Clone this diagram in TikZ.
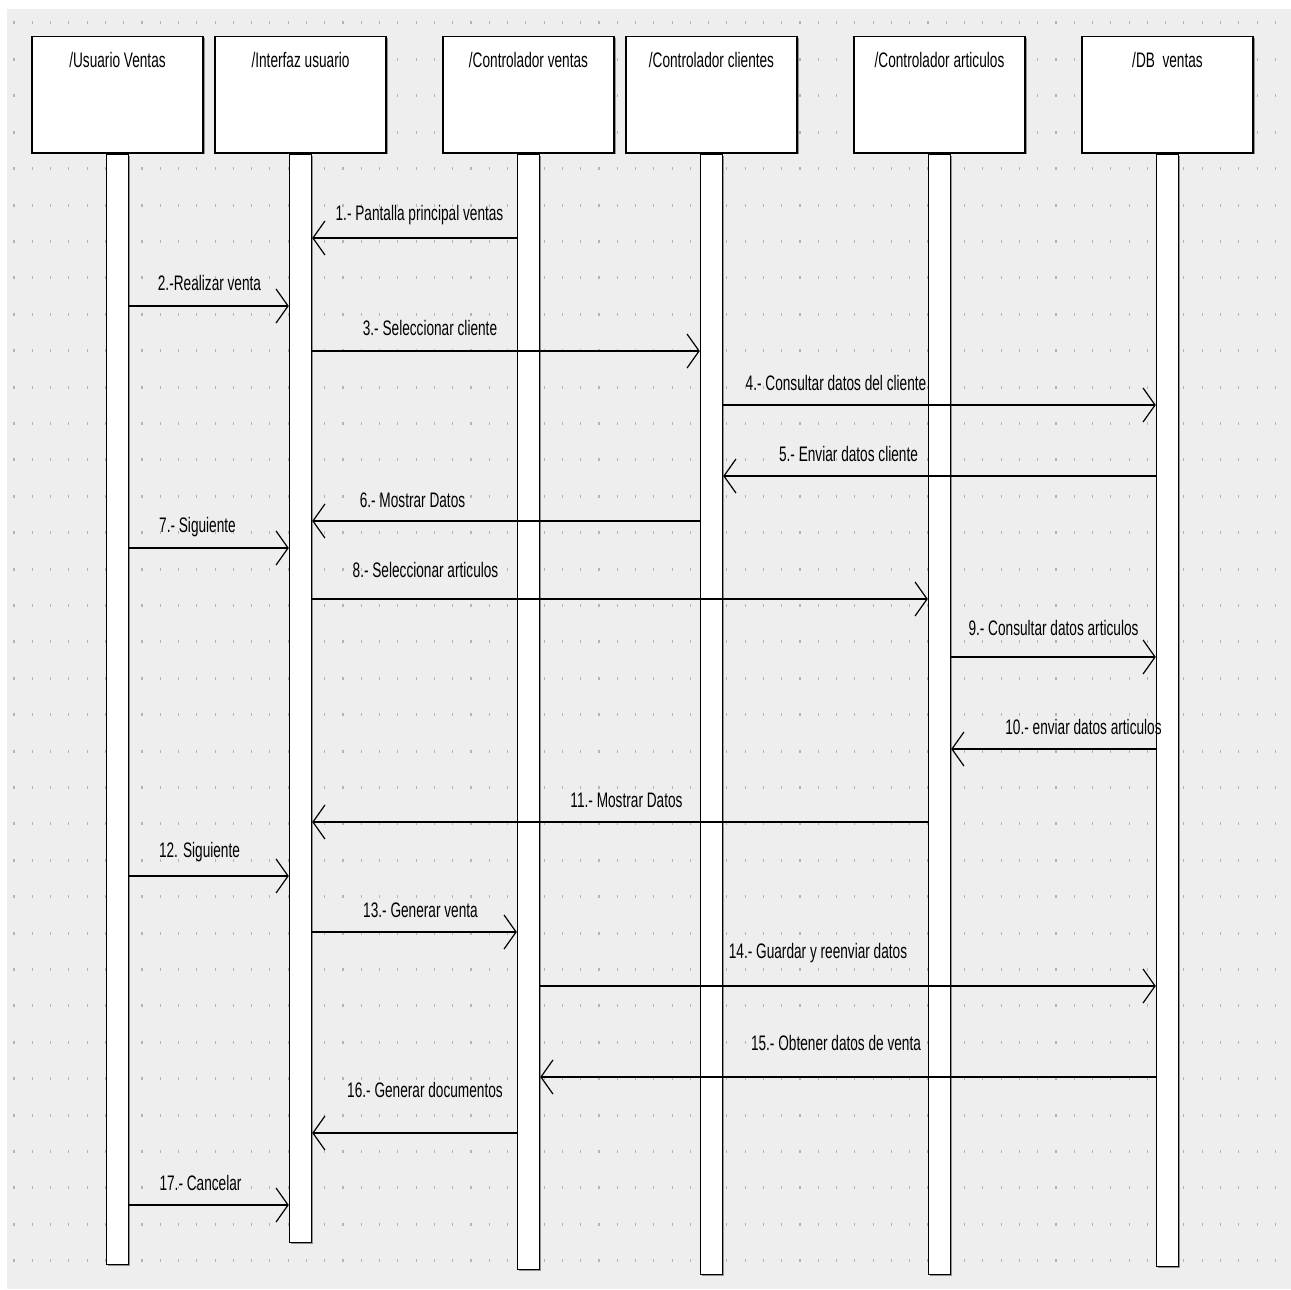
\documentclass[tikz,border=0pt]{standalone}
\usepackage{fontspec}
\setmainfont{Liberation Sans}[FakeStretch=0.65]
\usetikzlibrary{arrows.meta,shadows}
\definecolor{canvas}{HTML}{EEEEEE}
\definecolor{gridtick}{HTML}{B4B4B4}
\definecolor{shade}{HTML}{7A7A7A}

\begin{document}
\begin{tikzpicture}[x=1pt,y=-1pt,
  dot/.style={draw=gridtick, line width=1.1pt},
  hdr/.style={draw=black, line width=1.5pt, fill=white, minimum width=171pt,
    minimum height=116pt, inner sep=0pt, anchor=north,
    drop shadow={shadow xshift=1.5pt, shadow yshift=-1.5pt, fill=shade, opacity=0.8}},
  hdrtext/.style={font=\fontsize{21}{23}\selectfont, anchor=center, yshift=-24pt},
  bar/.style={draw=black, line width=1.4pt, fill=white, minimum width=22pt,
    inner sep=0pt, anchor=north,
    drop shadow={shadow xshift=1.5pt, shadow yshift=-1.5pt, fill=shade, opacity=0.8}},
  msg/.style={draw=black, line width=2pt,
    -{Straight Barb[length=12pt,width=34pt,line width=1.2pt]}},
  lbl/.style={font=\fontsize{21}{23}\selectfont, inner sep=0pt, anchor=center}
]
\useasboundingbox (0,0) rectangle (1291,1290);
\fill[white] (0,0) rectangle (1291,1290);
\fill[canvas] (7,9) rectangle (1291,1289);

% dotted drawing grid
\foreach \r in {0,...,34}
  \foreach \c in {0,...,69}
    \draw[dot] ({14+18.28*\c},{21.5+36.4*\r}) -- ++(0,3);

% object headers
\node[hdr, label={[name=t1,hdrtext]north:/Usuario Ventas}] (h1) at (117.5,36) {};
\node[hdr, label={[name=t2,hdrtext]north:/Interfaz usuario}] (h2) at (300.5,36) {};
\node[hdr, label={[name=t3,hdrtext]north:/Controlador ventas}] (h3) at (528.5,36) {};
\node[hdr, label={[name=t4,hdrtext]north:/Controlador clientes}] (h4) at (711.5,36) {};
\node[hdr, label={[name=t5,hdrtext]north:/Controlador articulos}] (h5) at (939.5,36) {};
\node[hdr, label={[name=t6,hdrtext]north:/DB\ \ ventas}] (h6) at (1167.5,36) {};

% activation bars
\node[bar, minimum height=1110pt] (b1) at (h1.south) {};
\node[bar, minimum height=1088pt] (b2) at (h2.south) {};
\node[bar, minimum height=1115pt] (b3) at (h3.south) {};
\node[bar, minimum height=1120pt] (b4) at (h4.south) {};
\node[bar, minimum height=1120pt] (b5) at (h5.south) {};
\node[bar, minimum height=1112pt] (b6) at (h6.south) {};

% message rows
\coordinate (m1) at (0,238);
\coordinate (m2) at (0,306);
\coordinate (m3) at (0,351);
\coordinate (m4) at (0,405);
\coordinate (m5) at (0,476);
\coordinate (m6) at (0,521);
\coordinate (m7) at (0,548);
\coordinate (m8) at (0,599);
\coordinate (m9) at (0,657);
\coordinate (m10) at (0,749);
\coordinate (m11) at (0,822);
\coordinate (m12) at (0,876);
\coordinate (m13) at (0,932);
\coordinate (m14) at (0,986);
\coordinate (m15) at (0,1077);
\coordinate (m16) at (0,1133);
\coordinate (m17) at (0,1205);

% messages
\draw[msg] (b3.west |- m1) -- (b2.east |- m1);
\draw[msg] (b1.east |- m2) -- (b2.west |- m2);
\draw[msg] (b2.east |- m3) -- (b4.west |- m3);
\draw[msg] (b4.east |- m4) -- (b6.west |- m4);
\draw[msg] (b6.west |- m5) -- (b4.east |- m5);
\draw[msg] (b4.west |- m6) -- (b2.east |- m6);
\draw[msg] (b1.east |- m7) -- (b2.west |- m7);
\draw[msg] (b2.east |- m8) -- (b5.west |- m8);
\draw[msg] (b5.east |- m9) -- (b6.west |- m9);
\draw[msg] (b6.west |- m10) -- (b5.east |- m10);
\draw[msg] (b5.west |- m11) -- (b2.east |- m11);
\draw[msg] (b1.east |- m12) -- (b2.west |- m12);
\draw[msg] (b2.east |- m13) -- (b3.west |- m13);
\draw[msg] (b3.east |- m14) -- (b6.west |- m14);
\draw[msg] (b6.west |- m15) -- (b3.east |- m15);
\draw[msg] (b3.west |- m16) -- (b2.east |- m16);
\draw[msg] (b1.east |- m17) -- (b2.west |- m17);

% message labels
\node[lbl] (l1) at (419.5,215) {1.- Pantalla principal ventas};
\node[lbl] (l2) at (209.5,283) {2.-Realizar venta};
\node[lbl] (l3) at (430,328) {3.- Seleccionar cliente};
\node[lbl] (l4) at (836,383) {4.- Consultar datos del cliente};
\node[lbl] (l5) at (848.5,454) {5.- Enviar datos cliente};
\node[lbl] (l6) at (412.5,500) {6.- Mostrar Datos};
\node[lbl] (l7) at (197.5,527) {7.- Siguiente};
\node[lbl] (l8) at (425.5,570) {8.- Seleccionar articulos};
\node[lbl] (l9) at (1053.5,628) {9.- Consultar datos articulos};
\node[lbl] (l10) at (1083.5,727) {10.- enviar datos articulos};
\node[lbl] (l11) at (626.5,800) {11.- Mostrar Datos};
\node[lbl] (l12) at (199.5,852) {12. Siguiente};
\node[lbl] (l13) at (420.5,910) {13.- Generar venta};
\node[lbl] (l14) at (818,953) {14.- Guardar y reenviar datos};
\node[lbl] (l15) at (836,1043) {15.- Obtener datos de venta};
\node[lbl] (l16) at (425,1090) {16.- Generar documentos};
\node[lbl] (l17) at (200.5,1183) {17.- Cancelar};
\end{tikzpicture}
\end{document}
